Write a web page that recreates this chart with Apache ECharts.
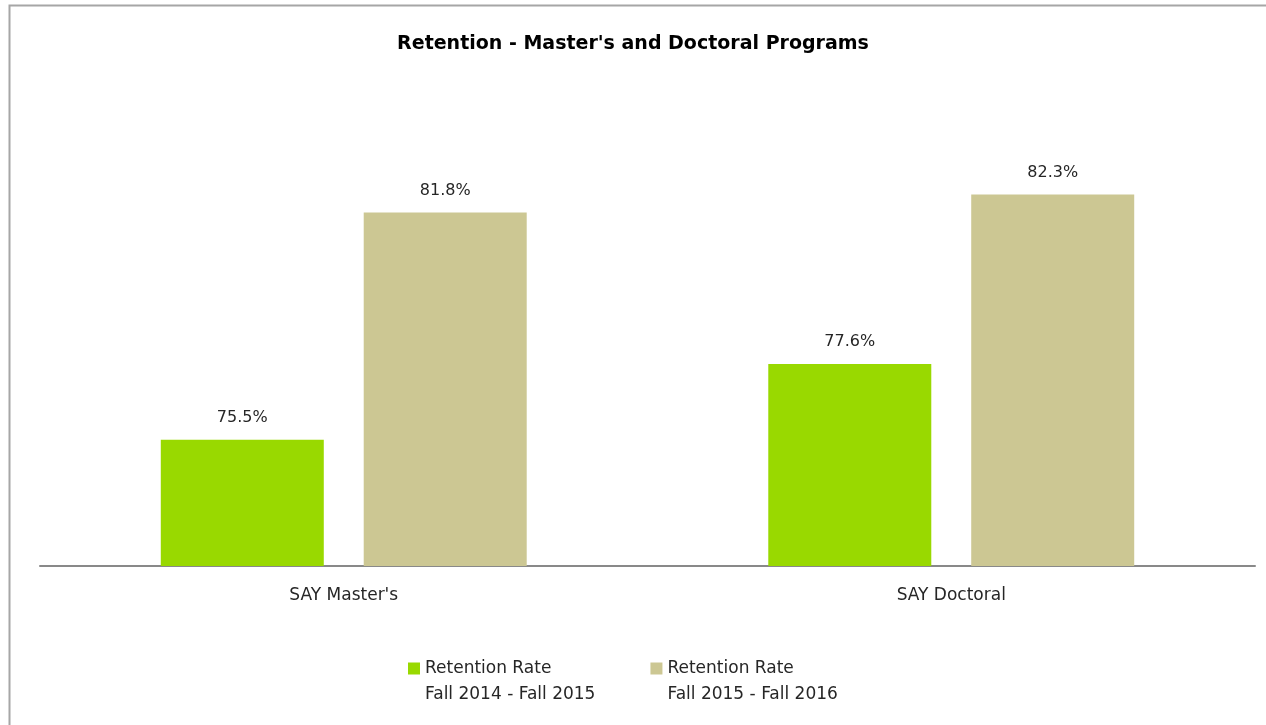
<!DOCTYPE html>
<html>
<head>
<meta charset="utf-8">
<script src="https://cdn.jsdelivr.net/npm/echarts@6/dist/echarts.min.js"></script>
<style>
  html, body { margin: 0; padding: 0; background: #fff; }
  #main { width: 1266px; height: 725px; }
</style>
</head>
<body>
<div id="main"></div>
<script>
let dom = document.getElementById("main")
let myChart = echarts.init(dom)

// data
let categories = ["SAY Master's", 'SAY Doctoral']
let seriesNames = ['Retention Rate\nFall 2014 - Fall 2015', 'Retention Rate\nFall 2015 - Fall 2016']
let rate1415 = [75.5, 77.6]
let rate1516 = [81.8, 82.3]
let colors = ['#99d900', '#ccc793']

let labelFont = '"DejaVu Sans", sans-serif'

let barLabel = {
  show: true,
  position: 'top',
  distance: 14,
  formatter: p => p.value.toFixed(1) + '%',
  fontFamily: labelFont,
  fontSize: 16,
  color: '#262626'
}

let option = {
  animation: false,
  title: {
    text: "Retention - Master's and Doctoral Programs",
    left: 'center',
    top: 30,
    textStyle: {
      fontFamily: '"DejaVu Sans", sans-serif',
      fontWeight: 'bold',
      fontSize: 19,
      color: '#000'
    }
  },
  graphic: [{
    type: 'rect',
    left: 7,
    top: 3,
    silent: true,
    shape: { width: 1300, height: 760 },
    style: { fill: 'none', stroke: '#a6a6a6', lineWidth: 2 }
  }],
  legend: {
    left: 403,
    top: 629,
    icon: 'rect',
    itemWidth: 12,
    itemHeight: 12,
    itemGap: 55,
    data: seriesNames,
    formatter: function(name){
      // empty first line keeps the marker level with the first text line
      let parts = name.split('\n')
      return '{e| }\n{t|' + parts[0] + '}\n{t|' + parts[1] + '}'
    },
    textStyle: {
      fontFamily: labelFont,
      fontSize: 17,
      color: '#262626',
      rich: {
        e: { lineHeight: 26, fontSize: 17 },
        t: { lineHeight: 26, fontSize: 17, fontFamily: labelFont, color: '#262626' }
      }
    }
  },
  grid: {
    left: 40,
    right: 11,
    top: 97,
    bottom: 159
  },
  xAxis: {
    type: 'category',
    data: categories,
    axisLine: { lineStyle: { color: '#898989', width: 2 } },
    axisTick: { show: false },
    axisLabel: {
      fontFamily: labelFont,
      fontSize: 17,
      color: '#262626',
      margin: 21
    }
  },
  yAxis: {
    type: 'value',
    min: 72,
    max: 85,
    show: false,
    splitLine: { show: false }
  },
  series: [{
    name: seriesNames[0],
    type: 'bar',
    data: rate1415,
    barWidth: 163,
    barGap: '24.5%',
    itemStyle: { color: colors[0] },
    label: barLabel
  }, {
    name: seriesNames[1],
    type: 'bar',
    data: rate1516,
    barWidth: 163,
    itemStyle: { color: colors[1] },
    label: barLabel
  }]
}

myChart.setOption(option, true);

window.addEventListener('resize', function(){
  myChart.resize();
})
</script>
</body>
</html>
